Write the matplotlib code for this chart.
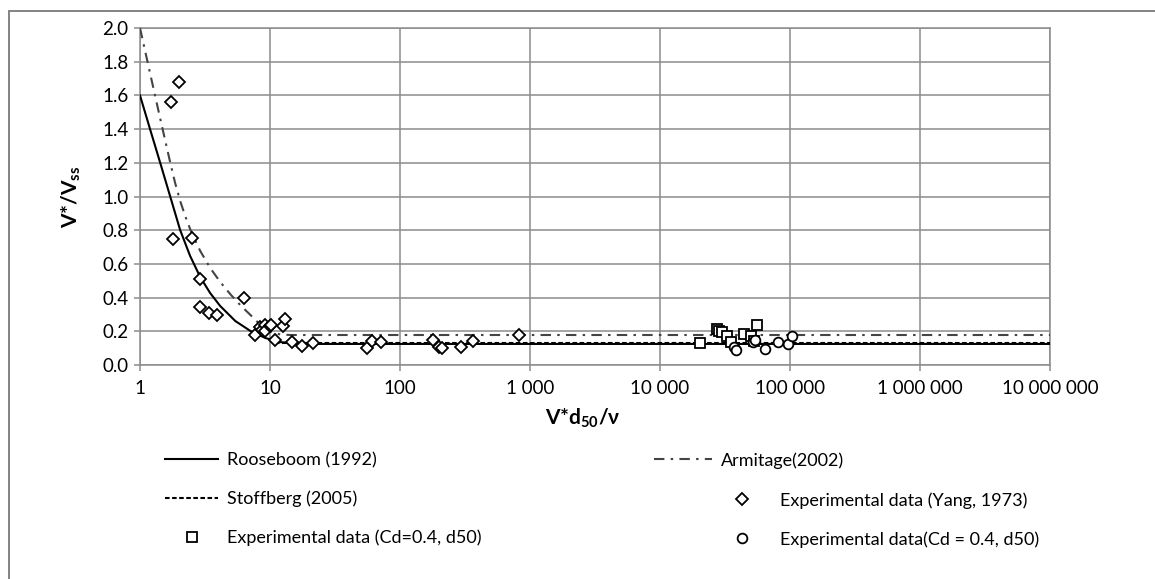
import matplotlib
matplotlib.use("Agg")
import matplotlib.pyplot as plt
from matplotlib.patches import Rectangle
from matplotlib.ticker import FixedLocator, FixedFormatter, NullLocator

plt.rcParams['font.family'] = ['Lato', 'DejaVu Sans']
plt.rcParams['mathtext.fontset'] = 'custom'
plt.rcParams['mathtext.rm'] = 'Lato'
plt.rcParams['mathtext.bf'] = 'Lato:bold'
plt.rcParams['mathtext.it'] = 'Lato:italic'

# ---- data ----
rooseboom_x = [1, 1.2, 1.43, 1.7, 2.036, 2.43, 2.905, 3.465, 4.14, 5.41, 7.07, 9.22, 12.0, 17.1, 1e7]
rooseboom_y = [1.6, 1.395, 1.2, 1.005, 0.801, 0.647, 0.522, 0.427, 0.350, 0.261, 0.202, 0.160, 0.136, 0.125, 0.125]

armitage_x = [1, 1.194, 1.427, 1.704, 1.862, 2.036, 2.225, 2.43, 2.56, 2.905, 3.465, 4.14, 4.94, 5.90,
              7.07, 8.43, 10.07, 12.0, 14.4, 1e7]
armitage_y = [2.0, 1.733, 1.466, 1.205, 1.081, 0.974, 0.885, 0.807, 0.766, 0.677, 0.576, 0.493, 0.421, 0.356,
              0.297, 0.238, 0.197, 0.181, 0.178, 0.178]

stoffberg_x = [11, 1e7]
stoffberg_y = [0.132, 0.132]

yang_x = [1.72, 2.0, 1.81, 2.5, 2.9, 2.9, 3.4, 3.9, 6.3, 7.7, 8.4, 8.7, 9.2, 9.2, 10.0, 10.2, 11.0,
          12.7, 13.1, 14.8, 17.7, 21.5, 56, 61, 71, 178, 200, 212, 295, 362, 830]
yang_y = [1.56, 1.68, 0.75, 0.755, 0.51, 0.345, 0.31, 0.297, 0.397, 0.18, 0.225, 0.21, 0.235, 0.2, 0.23, 0.24, 0.148,
          0.23, 0.275, 0.135, 0.11, 0.13, 0.1, 0.145, 0.135, 0.148, 0.108, 0.1, 0.107, 0.145, 0.178]

sq_x = [20300, 27500, 28500, 30000, 32700, 35000, 44500, 50500, 52500, 55600]
sq_y = [0.13, 0.215, 0.2, 0.195, 0.17, 0.135, 0.185, 0.175, 0.145, 0.235]

circ_x = [36800, 38500, 52000, 54000, 64000, 81000, 97000, 104000]
circ_y = [0.105, 0.09, 0.135, 0.148, 0.095, 0.135, 0.125, 0.175]

x_ticks = [1, 10, 100, 1000, 10000, 100000, 1000000, 10000000]
x_tick_labels = ["1", "10", "100", "1 000", "10 000", "100 000", "1 000 000", "10 000 000"]
y_ticks = [0.0, 0.2, 0.4, 0.6, 0.8, 1.0, 1.2, 1.4, 1.6, 1.8, 2.0]
y_tick_labels = ["0.0", "0.2", "0.4", "0.6", "0.8", "1.0", "1.2", "1.4", "1.6", "1.8", "2.0"]

# ---- figure ----
W, H = 1155, 579
fig = plt.figure(figsize=(W / 100, H / 100), dpi=100)

# outer frame (top + left border visible)
fig.patches.append(Rectangle((9 / W, -0.2), 1.2, 1 - 11 / H + 0.2, transform=fig.transFigure,
                             fill=False, edgecolor='#7a7a7a', linewidth=1.3))

ax = fig.add_axes([140 / W, 1 - 365 / H, 910 / W, 337 / H])
ax.set_xscale('log')
ax.set_xlim(1, 1e7)
ax.set_ylim(0, 2.0)

grid_c = '#8c8c8c'
ax.xaxis.set_major_locator(FixedLocator(x_ticks))
ax.xaxis.set_major_formatter(FixedFormatter(x_tick_labels))
ax.xaxis.set_minor_locator(NullLocator())
ax.yaxis.set_major_locator(FixedLocator(y_ticks))
ax.yaxis.set_major_formatter(FixedFormatter(y_tick_labels))
ax.grid(True, which='major', color=grid_c, linewidth=1.1)
ax.set_axisbelow(True)
for s in ['left', 'bottom', 'right', 'top']:
    ax.spines[s].set_color(grid_c)
    ax.spines[s].set_linewidth(1.1)
ax.tick_params(axis='both', colors=grid_c, length=4.5, width=1.1, labelcolor='black', labelsize=13.5)
ax.tick_params(axis='x', pad=6)
ax.tick_params(axis='y', pad=4)

ax.plot(rooseboom_x, rooseboom_y, color='black', linewidth=1.5, linestyle='-', label='Rooseboom (1992)', zorder=3)
ax.plot(stoffberg_x, stoffberg_y, color='black', linewidth=1.5, linestyle=(0, (2.2, 1.2)), label='Stoffberg (2005)', zorder=3)
ax.plot(armitage_x, armitage_y, color='#444444', linewidth=1.5, linestyle=(0, (5, 3, 1.2, 3)), label='Armitage(2002)', zorder=3)

mk = dict(linestyle='none', markerfacecolor='white', markeredgecolor='black', markeredgewidth=1.3, zorder=4)
ax.plot(yang_x, yang_y, marker='D', markersize=6.5, label='Experimental data (Yang, 1973)', **mk)
ax.plot(sq_x, sq_y, marker='s', markersize=7, label='Experimental data (Cd=0.4, d50)', **mk)
ax.plot(circ_x, circ_y, marker='o', markersize=7, label='Experimental data(Cd = 0.4, d50)', **mk)

ax.set_ylabel(r'V*/V$_{\mathbf{ss}}$', fontsize=15, fontweight='bold', labelpad=14)
fig.text(583 / W, 1 - 418 / H, r'V*d$_{\mathbf{50}}$/ν', fontsize=15, fontweight='bold',
         ha='center', va='center', family=['Lato', 'DejaVu Sans'])

# ---- legend (three groups to reproduce the layout) ----
h = {l.get_label(): l for l in ax.get_lines()}
common = dict(frameon=False, fontsize=13, borderpad=0, borderaxespad=0, labelspacing=1.25,
              handletextpad=0.5, loc='upper left', bbox_transform=fig.transFigure)
leg1 = fig.legend([h['Rooseboom (1992)'], h['Stoffberg (2005)'], h['Experimental data (Cd=0.4, d50)']],
                  ['Rooseboom (1992)', 'Stoffberg (2005)', 'Experimental data (Cd=0.4, d50)'],
                  bbox_to_anchor=(165 / W, 1 - 452 / H), handlelength=2.95, **common)
leg2 = fig.legend([h['Armitage(2002)']], ['Armitage(2002)'],
                  bbox_to_anchor=(654 / W, 1 - 452 / H), handlelength=3.2, **common)
leg3 = fig.legend([h['Experimental data (Yang, 1973)'], h['Experimental data(Cd = 0.4, d50)']],
                  ['Experimental data (Yang, 1973)', 'Experimental data(Cd = 0.4, d50)'],
                  bbox_to_anchor=(713 / W, 1 - 492 / H), handlelength=3.2, **common)

fig.savefig('out.png', dpi=100)
